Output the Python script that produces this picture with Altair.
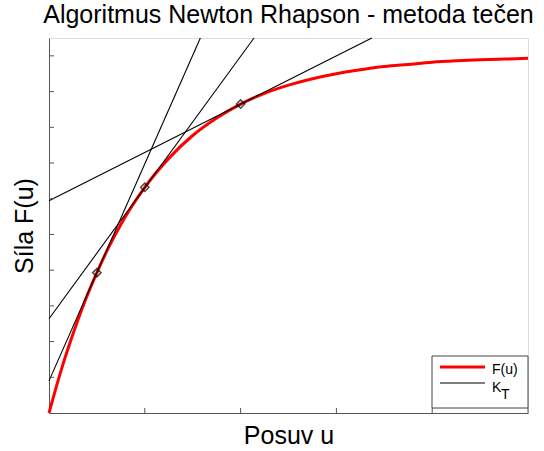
import altair as alt
import pandas as pd

# curve F(u)
curve_u = [0, 0.125, 0.25, 0.375, 0.5, 0.625, 0.75, 0.875, 1.0, 1.25, 1.5, 1.75, 2.0,
           2.25, 2.5, 2.75, 3.0, 3.25, 3.5, 3.75, 4.0, 4.25, 4.5, 4.75, 5.0]
curve_F = [0, 1.18, 2.21, 3.13, 3.93, 4.65, 5.28, 5.83, 6.32, 7.13, 7.77, 8.26, 8.65,
           8.95, 9.18, 9.36, 9.50, 9.61, 9.70, 9.76, 9.82, 9.86, 9.89, 9.91, 9.93]

# tangent lines (K_T) endpoints
tan_id = ["t1", "t2", "t3"]
tan_u0 = [0, 0, 0]
tan_F0 = [0.90, 2.64, 5.94]
tan_u1 = [1.58, 2.14, 3.37]
tan_F1 = [10.5, 10.5, 10.5]

# tangent points
pt_u = [0.5, 1.0, 2.0]
pt_F = [3.93, 6.32, 8.65]

x_ticks = [1, 2, 3, 4, 5]
y_ticks = [1, 2, 3, 4, 5, 6, 7, 8, 9, 10]

legend_labels = ["F(u)", "K"]
legend_sub = "T"

FONT = "Liberation Sans"
W, H = 479, 375

curve_df = pd.DataFrame({"u": curve_u, "F": curve_F})
tan_rows = []
for i, t in enumerate(tan_id):
    tan_rows.append({"id": t, "u": tan_u0[i], "F": tan_F0[i]})
    tan_rows.append({"id": t, "u": tan_u1[i], "F": tan_F1[i]})
tan_df = pd.DataFrame(tan_rows)
pt_df = pd.DataFrame({"u": pt_u, "F": pt_F})

xs = alt.Scale(domain=[0, 5], nice=False, zero=False)
ys = alt.Scale(domain=[0, 10.5], nice=False, zero=False)

xax = alt.Axis(title="Posuv u", labels=False, ticks=False, grid=False,
               domainColor="#555", titleFont=FONT, titleFontSize=25,
               titleFontWeight="normal", titleColor="black",
               titleBaseline="alphabetic", titlePadding=30)
yax = alt.Axis(title="Síla F(u)", labels=False, ticks=False, grid=False,
               domainColor="#555", titleFont=FONT, titleFontSize=25,
               titleFontWeight="normal", titleColor="black",
               titleBaseline="alphabetic", titlePadding=17)

base_curve = alt.Chart(curve_df).mark_line(
    color="#ff0000", strokeWidth=3, interpolate="monotone"
).encode(
    x=alt.X("u:Q", scale=xs, axis=xax),
    y=alt.Y("F:Q", scale=ys, axis=yax),
)

tangents = alt.Chart(tan_df).mark_line(color="black", strokeWidth=1.1).encode(
    x=alt.X("u:Q", scale=xs),
    y=alt.Y("F:Q", scale=ys),
    detail="id:N",
)

points = alt.Chart(pt_df).mark_point(
    shape="diamond", size=70, filled=False, color="black", strokeWidth=1.5
).encode(
    x=alt.X("u:Q", scale=xs),
    y=alt.Y("F:Q", scale=ys),
)

xt = alt.Chart(pd.DataFrame({"u": x_ticks})).mark_rule(color="#555").encode(
    x=alt.X("u:Q", scale=xs), y=alt.value(H), y2=alt.value(H - 5)
)
yt = alt.Chart(pd.DataFrame({"F": y_ticks})).mark_rule(color="#555").encode(
    y=alt.Y("F:Q", scale=ys), x=alt.value(0), x2=alt.value(5)
)

# legend box (manual, to allow subscript)
leg_box = alt.Chart(pd.DataFrame({"a": [0]})).mark_rect(
    fill="white", stroke="#444", strokeWidth=1
).encode(x=alt.value(383), x2=alt.value(479), y=alt.value(318), y2=alt.value(370))
leg_red = alt.Chart(pd.DataFrame({"a": [0]})).mark_rule(color="#ff0000", strokeWidth=3).encode(
    x=alt.value(391), x2=alt.value(436), y=alt.value(329)
)
leg_blk = alt.Chart(pd.DataFrame({"a": [0]})).mark_rule(color="black", strokeWidth=1.1).encode(
    x=alt.value(391), x2=alt.value(436), y=alt.value(345)
)
leg_t1 = alt.Chart(pd.DataFrame({"t": [legend_labels[0]]})).mark_text(
    font=FONT, fontSize=14, align="left", baseline="alphabetic", color="black"
).encode(x=alt.value(443), y=alt.value(336), text="t:N")
leg_t2 = alt.Chart(pd.DataFrame({"t": [legend_labels[1]]})).mark_text(
    font=FONT, fontSize=14, align="left", baseline="alphabetic", color="black"
).encode(x=alt.value(443), y=alt.value(354), text="t:N")
leg_t3 = alt.Chart(pd.DataFrame({"t": [legend_sub]})).mark_text(
    font=FONT, fontSize=14, align="left", baseline="alphabetic", color="black"
).encode(x=alt.value(452), y=alt.value(361), text="t:N")

chart = alt.layer(
    base_curve, tangents, points, xt, yt,
    leg_box, leg_red, leg_blk, leg_t1, leg_t2, leg_t3
).properties(
    width=W, height=H,
    title=alt.TitleParams(
        "Algoritmus Newton Rhapson - metoda tečen",
        font=FONT, fontSize=25, fontWeight="normal", color="black",
        anchor="middle", offset=8,
    ),
    autosize=alt.AutoSizeParams(type="none"),
    padding={"left": 49, "top": 38, "right": 16, "bottom": 38},
).configure_view(stroke=None).configure(background="white")

chart.save("out.html", embed_options={"renderer": "svg", "actions": False})
